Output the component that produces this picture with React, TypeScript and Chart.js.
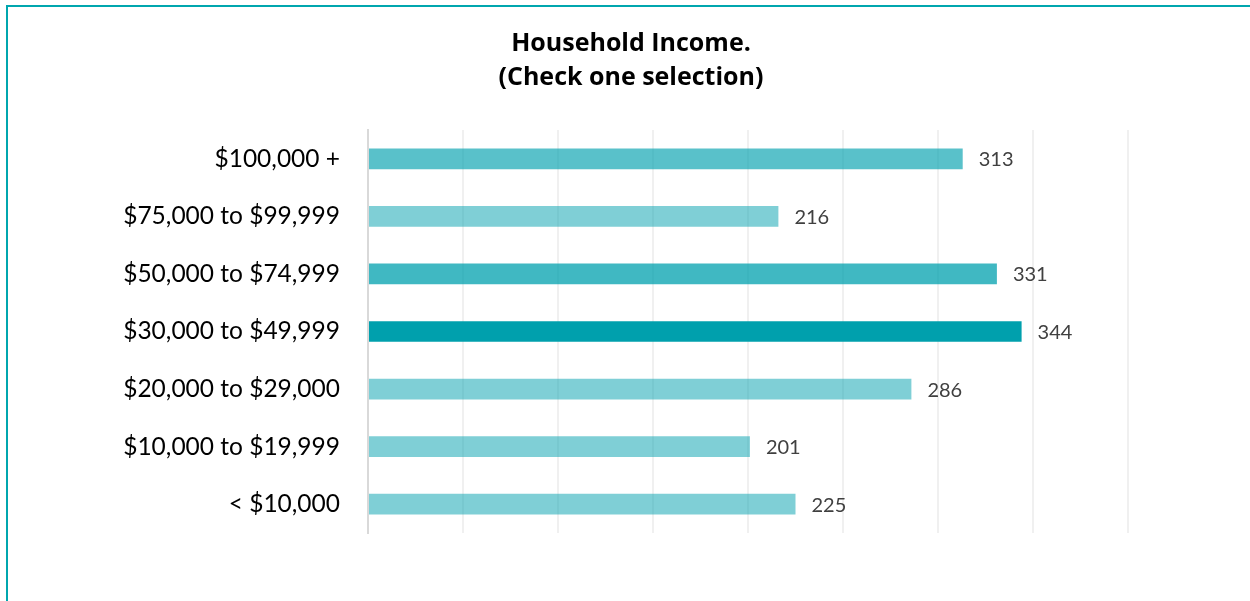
import React, { useEffect, useRef } from 'react';
import { Chart, registerables } from 'chart.js';

Chart.register(...registerables);

const categories = [
  '$100,000 +',
  '$75,000 to $99,999',
  '$50,000 to $74,999',
  '$30,000 to $49,999',
  '$20,000 to $29,000',
  '$10,000 to $19,999',
  '< $10,000',
];
const counts = [313, 216, 331, 344, 286, 201, 225];
const barColors = [
  'rgba(0,160,173,0.65)',
  'rgba(0,160,173,0.5)',
  'rgba(0,160,173,0.75)',
  'rgba(0,160,173,1)',
  'rgba(0,160,173,0.5)',
  'rgba(0,160,173,0.5)',
  'rgba(0,160,173,0.5)',
];
const titleLines = ['Household Income.', '(Check one selection)'];
const axisMax = 400;
const axisStep = 50;

const valueLabels = {
  id: 'valueLabels',
  afterDatasetsDraw(chart: any) {
    const ctx = chart.ctx;
    const meta = chart.getDatasetMeta(0);
    ctx.save();
    ctx.font = '20px Lato';
    ctx.fillStyle = '#404040';
    ctx.textAlign = 'left';
    ctx.textBaseline = 'middle';
    meta.data.forEach((bar: any, i: number) => {
      ctx.fillText(String(chart.data.datasets[0].data[i]), bar.x + 16, bar.y + 1);
    });
    ctx.restore();
  },
};

const centeredTitle = {
  id: 'centeredTitle',
  afterDraw(chart: any) {
    const ctx = chart.ctx;
    ctx.save();
    ctx.font = 'bold 25px "Open Sans"';
    ctx.fillStyle = '#000000';
    ctx.textAlign = 'center';
    ctx.textBaseline = 'middle';
    titleLines.forEach((line, i) => {
      ctx.fillText(line, 631, 44 + i * 34);
    });
    ctx.restore();
  },
};

export default function App() {
  const ref = useRef<HTMLCanvasElement | null>(null);
  useEffect(() => {
    if (!ref.current) return;
    const chart = new Chart(ref.current, {
      type: 'bar',
      data: {
        labels: categories,
        datasets: [
          {
            data: counts,
            backgroundColor: barColors,
            borderWidth: 0,
            barPercentage: 0.36,
            categoryPercentage: 1,
          },
        ],
      },
      plugins: [valueLabels, centeredTitle],
      options: {
        indexAxis: 'y',
        animation: false,
        responsive: false,
        maintainAspectRatio: false,
        layout: { padding: { left: 0, right: 122, top: 130, bottom: 68 } },
        plugins: {
          legend: { display: false },
          tooltip: { enabled: false },
          title: { display: false },
        },
        scales: {
          x: {
            min: 0,
            max: axisMax,
            ticks: { display: false, stepSize: axisStep },
            grid: { color: '#f0f0f0', lineWidth: 2, drawTicks: false },
            border: { display: false },
          },
          y: {
            ticks: {
              color: '#000000',
              font: { family: 'Lato', size: 24.5 },
              padding: 28,
            },
            grid: { display: false, drawTicks: false },
            border: { display: true, color: '#d9d9d9', width: 2 },
            afterFit: (scale: any) => {
              scale.width = 368;
            },
          },
        },
      },
    });
    return () => chart.destroy();
  }, []);

  return (
    <div style={{ position: 'absolute', left: 0, top: 0, width: 1250, height: 601, overflow: 'hidden', background: '#ffffff' }}>
      <div
        style={{
          position: 'absolute',
          left: 6,
          top: 5,
          width: 1400,
          height: 800,
          borderLeft: '2px solid #00a6ae',
          borderTop: '2px solid #00a6ae',
        }}
      />
      <canvas ref={ref} width={1250} height={601} style={{ position: 'absolute', left: 0, top: 0, width: 1250, height: 601 }} />
    </div>
  );
}
